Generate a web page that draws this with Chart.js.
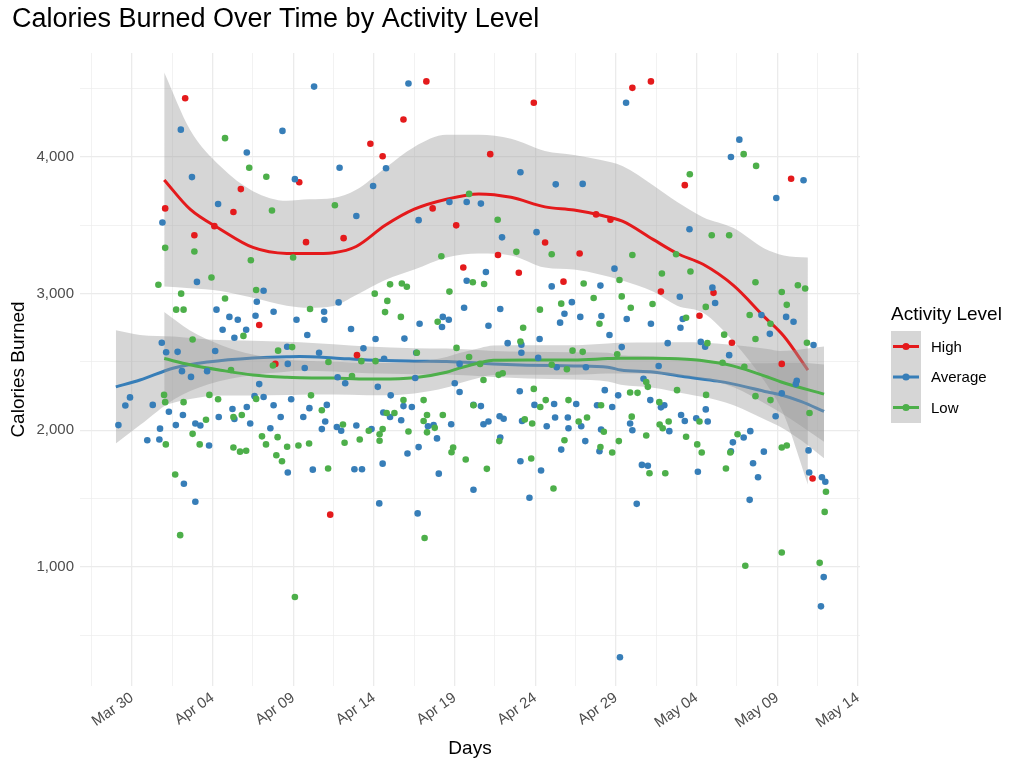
<!DOCTYPE html>
<html>
<head>
<meta charset="utf-8">
<script src="https://cdn.jsdelivr.net/npm/chart.js@4.4.0/dist/chart.umd.min.js"></script>
<style>html,body{margin:0;padding:0;background:#fff;}</style>
</head>
<body>
<canvas id="c" width="1024" height="768"></canvas>
<script>
const FONT = '"Liberation Sans", Arial, Helvetica, sans-serif';

// ---------- texts ----------
const chartTitle = 'Calories Burned Over Time by Activity Level';
const xTitle = 'Days';
const yTitle = 'Calories Burned';
const legendTitle = 'Activity Level';
const seriesNames = ['High', 'Average', 'Low'];
const seriesColors = ['#E41A1C', '#377EB8', '#4DAF4A'];

// ---------- ticks (x = days after Mar 30) ----------
const xTickDays = [0, 5, 10, 15, 20, 25, 30, 35, 40, 45];
const xTickLabels = ['Mar 30', 'Apr 04', 'Apr 09', 'Apr 14', 'Apr 19', 'Apr 24', 'Apr 29', 'May 04', 'May 09', 'May 14'];
const xGridDays = [-2.5, 0, 2.5, 5, 7.5, 10, 12.5, 15, 17.5, 20, 22.5, 25, 27.5, 30, 32.5, 35, 37.5, 40, 42.5, 45];
const yTickValues = [1000, 2000, 3000, 4000];
const yGridValues = [500, 1000, 1500, 2000, 2500, 3000, 3500, 4000, 4500];

// ---------- points: [day after Mar 30, calories] ----------
const highPoints = [
  [2.06,3624],[3.30,4430],[3.87,3427],[5.11,3494],[6.29,3597],[6.75,3765],[7.89,2771],[8.89,2486],[10.37,3815],
  [10.79,3377],[12.29,1383],[13.12,3406],[13.95,2550],[14.78,4097],[15.54,4006],[16.83,4274],[18.25,4553],[18.64,3624],
  [20.10,3500],[20.54,3191],[22.21,4021],[22.69,3283],[23.98,3153],[24.91,4397],[25.61,3374],[26.75,3088],[27.75,3294],
  [28.77,3580],[29.66,3541],[31.02,4506],[32.17,4553],[32.79,3015],[34.27,3794],[35.18,2838],[36.05,3006],[37.19,2641],
  [40.28,2486],[40.86,3841],[42.19,1647]
];
const averagePoints = [
  [-0.84,2038],[-0.41,2182],[-0.12,2241],
  [3.03,4200],[3.72,3853],[5.34,3656],[1.89,3521],[4.03,3086],[5.24,2883],[1.85,2641],[2.12,2571],[2.83,2574],[5.16,2580],
  [3.10,2433],[3.66,2391],[4.66,2433],[1.29,2186],[2.29,2136],[3.16,2112],[1.74,2012],[2.72,2038],[3.93,2050],[4.24,2035],
  [5.38,2097],[0.95,1927],[1.70,1933],[4.78,1889],[3.22,1609],[3.93,1477],
  [9.33,4191],[7.12,4033],[10.10,3838],[8.16,3021],[7.74,2941],[6.04,2830],[6.56,2809],[7.66,2838],[8.78,2868],[10.20,2809],
  [5.62,2736],[7.08,2736],[6.35,2677],[9.62,2612],[9.66,2486],[7.89,2338],[7.60,2250],[8.16,2244],[8.78,2183],[9.87,2227],
  [6.23,2156],[7.12,2171],[6.35,2083],[7.33,2050],[9.22,2097],[8.58,2015],[9.66,1691],
  [11.29,4515],[12.87,3921],[14.95,3788],[13.91,3568],[12.81,2936],[11.91,2868],[11.93,2809],[10.87,2697],[13.58,2741],
  [15.10,2668],[14.35,2600],[11.60,2568],[10.71,2456],[12.75,2388],[13.22,2344],[15.24,2318],[12.08,2186],[11.00,2162],
  [10.62,2097],[11.98,2065],[11.77,2009],[12.70,2024],[12.97,1997],[13.91,2035],[14.85,2009],[11.21,1712],[13.79,1715],
  [14.26,1715],[15.33,1465],
  [17.14,4538],[15.75,3918],[17.77,3538],[19.68,3671],[17.83,2780],[19.27,2830],[19.64,2809],[19.22,2756],[16.89,2671],
  [15.63,2524],[17.62,2568],[20.31,2486],[17.56,2383],[20.01,2344],[20.31,2280],[16.04,2256],[16.83,2177],[17.35,2171],
  [15.58,2130],[16.00,2097],[16.69,2074],[18.35,2030],[18.70,2038],[18.91,1941],[19.79,2044],[17.77,1877],[17.08,1830],
  [15.54,1756],[19.02,1683],[17.71,1392],
  [24.08,3888],[20.75,3671],[21.63,3659],[22.94,3412],[25.08,3450],[21.94,3159],[20.75,3094],[20.59,2897],[22.83,2888],
  [22.10,2765],[23.29,2638],[24.14,2627],[24.14,2568],[25.27,2668],[25.18,2530],[24.04,2286],[24.95,2186],[21.17,2186],
  [21.63,2177],[21.79,2044],[22.10,2065],[22.79,2103],[23.04,2085],[24.18,2068],[22.83,1947],[24.08,1774],[21.17,1565],
  [24.64,1506],
  [26.27,3800],[27.94,3803],[29.91,3183],[26.02,3053],[29.04,3059],[27.27,2938],[26.81,2853],[26.54,2788],[27.79,2830],
  [29.10,2836],[29.60,2697],[26.33,2462],[28.14,2462],[29.31,2294],[26.17,2192],[27.54,2192],[28.83,2183],[29.77,2171],
  [30.14,2256],[26.23,2094],[27.02,2094],[25.71,2030],[27.06,2015],[27.85,2030],[28.10,1921],[26.61,1859],[28.98,1847],
  [29.08,2006],[25.36,1706],[30.25,339],
  [30.63,4397],[34.56,3471],[33.96,2977],[30.67,2815],[32.17,2780],[34.14,2815],[34.00,2750],[33.21,2638],[30.36,2609],
  [32.65,2471],[31.71,2377],[32.13,2221],[32.79,2168],[33.00,2183],[34.04,2112],[34.27,2068],[34.98,2088],[30.88,2050],
  [31.02,2000],[33.31,1994],[31.61,1747],[31.98,1741],[35.08,1697],[31.29,1462],
  [37.65,4127],[37.13,4000],[39.94,3700],[35.98,3044],[36.15,2932],[39.02,2844],[39.54,2706],[35.26,2647],[35.53,2612],
  [37.02,2550],[35.57,2153],[35.69,2065],[39.90,2103],[38.33,1994],[37.92,1947],[37.25,1912],[37.13,1847],[39.17,1844],
  [38.50,1759],[38.81,1656],[38.29,1491],
  [41.63,3830],[40.55,2830],[41.01,2794],[42.25,2624],[41.21,2362],[41.15,2338],[40.28,2271],[41.94,1853],[41.98,1691],
  [42.77,1656],[42.98,1624],[42.88,926],[42.71,712]
];
const lowPoints = [
  [2.06,3335],[3.87,3309],[1.64,3065],[4.93,3118],[3.05,3000],[2.74,2883],[3.20,2883],[3.76,2665],[1.99,2259],[2.06,2206],
  [3.20,2206],[4.80,2259],[5.34,2227],[3.76,1974],[4.59,2077],[2.10,1897],[4.20,1897],[2.68,1677],[2.99,1233],
  [5.77,4138],[7.27,3921],[8.33,3856],[8.68,3609],[7.37,3244],[9.99,3265],[7.70,3027],[5.77,2965],[6.91,2691],[9.06,2583],
  [9.93,2609],[8.74,2474],[6.14,2441],[7.70,2230],[6.29,2097],[6.81,2112],[8.06,1956],[8.31,1897],[9.03,1950],[6.29,1874],
  [6.70,1844],[7.08,1850],[9.62,1880],[10.32,1889],[8.95,1818],[9.30,1774],[10.10,780],
  [12.58,3647],[15.05,3000],[11.04,2888],[12.18,2500],[13.64,2397],[14.22,2506],[15.10,2506],[11.10,2256],[11.77,2147],
  [13.08,2042],[10.98,1903],[13.18,1909],[14.12,1933],[14.68,1997],[15.35,1971],[15.35,1924],[12.16,1721],
  [19.18,3274],[16.00,3068],[16.73,3074],[17.04,3050],[19.68,3015],[15.83,2947],[15.69,2865],[16.67,2830],[18.95,2794],
  [17.66,2568],[20.12,2603],[18.08,2221],[16.83,2221],[15.79,2127],[16.27,2127],[18.29,2112],[19.27,2112],[18.08,2068],
  [17.14,1991],[18.29,1985],[18.77,2018],[15.54,2009],[19.91,1874],[19.81,1839],[18.14,1212],
  [20.90,3730],[22.67,3541],[23.83,3306],[21.13,3083],[21.83,3071],[25.29,2883],[24.25,2750],[24.08,2650],[20.90,2536],
  [21.58,2486],[22.73,2406],[22.98,2418],[21.79,2368],[24.91,2303],[21.17,2183],[24.35,2080],[24.81,2050],[22.77,1921],
  [20.69,1786],[22.00,1718],[24.75,1794],
  [26.02,3288],[28.00,3074],[30.22,3100],[28.62,2968],[26.61,2927],[28.98,2780],[27.31,2583],[27.94,2574],[30.08,2556],
  [26.02,2480],[26.96,2447],[25.65,2221],[25.31,2171],[27.06,2221],[28.21,2094],[27.69,2065],[29.08,2183],[29.25,1989],
  [29.04,1877],[30.18,1921],[29.77,1838],[26.81,1927],[26.13,1574],
  [34.58,3874],[31.02,3283],[33.73,3288],[32.85,3147],[34.62,3162],[30.36,2980],[32.27,2924],[30.92,2897],[34.35,2824],
  [31.88,2353],[31.98,2318],[30.88,2277],[31.34,2274],[33.79,2294],[32.69,2206],[30.98,2100],[32.71,2042],[32.90,2015],
  [33.27,2065],[35.18,2065],[34.35,1953],[31.88,1962],[35.04,1897],[32.08,1686],[33.06,1686],
  [37.92,4021],[38.69,3935],[35.94,3427],[37.02,3427],[38.65,3083],[35.57,2903],[38.29,2844],[39.58,2780],[36.71,2700],
  [38.65,2668],[35.67,2638],[36.61,2494],[37.96,2465],[35.59,2259],[38.65,2250],[39.58,2221],[37.54,1971],[37.09,1838],
  [35.32,1838],[36.82,1721],[38.02,1009],
  [41.28,3062],[40.28,3012],[41.73,3038],[40.59,2918],[41.84,2641],[42.00,2127],[40.28,1874],[40.59,1889],[43.02,1550],
  [42.94,1403],[42.63,1030],[40.28,1106]
];

// ---------- smooth fits with confidence bands ----------
const highSmoothDay = [2.0,3.6,5.5,7.5,9.6,11.0,12.5,13.9,15.7,17.5,19.5,21.5,23.5,25.6,27.4,29.0,30.4,32.3,33.8,35.4,37.3,39.2,40.4,41.9];
const highFit   = [3832,3618,3470,3338,3294,3293,3300,3345,3500,3618,3691,3730,3705,3635,3612,3575,3530,3397,3294,3215,3059,2830,2690,2441];
const highLower = [3053,3040,3020,2970,2912,2897,2910,2990,3100,3176,3265,3294,3280,3191,3176,3140,3096,3015,2912,2860,2647,2360,2118,1603];
const highUpper = [4618,4200,3930,3750,3680,3690,3700,3760,3920,4074,4162,4162,4133,4044,4015,3980,3935,3794,3670,3560,3480,3330,3280,3265];

const averageSmoothDay = [-1.0,0.5,2.6,4.7,7.5,9.6,10.4,12.5,14.6,17.5,19.5,22.4,24.5,27.4,29.5,30.3,32.3,34.4,36.3,37.3,39.4,40.2,41.5,42.9];
const averageFit   = [2318,2368,2456,2500,2530,2538,2540,2530,2515,2506,2503,2486,2477,2471,2462,2441,2427,2390,2360,2338,2280,2260,2210,2138];
const averageLower = [1903,2038,2226,2335,2405,2428,2435,2430,2417,2411,2408,2391,2380,2371,2357,2333,2312,2265,2220,2183,2070,2025,1925,1795];
const averageUpper = [2733,2698,2686,2665,2655,2648,2645,2630,2613,2601,2598,2581,2574,2571,2567,2549,2542,2515,2500,2493,2490,2495,2495,2481];

const lowSmoothDay = [2.0,3.6,5.5,7.5,9.6,10.4,12.5,14.6,15.4,17.5,19.5,20.3,21.6,22.4,24.5,25.3,27.4,29.5,30.3,32.3,34.4,35.2,37.3,39.4,40.2,42.9];
const lowFit   = [2525,2480,2440,2405,2388,2385,2382,2375,2375,2385,2425,2455,2495,2512,2515,2515,2515,2525,2528,2528,2520,2512,2470,2390,2355,2265];
const lowLower = [2185,2230,2255,2255,2258,2260,2262,2257,2257,2270,2313,2345,2387,2404,2407,2407,2407,2415,2416,2413,2395,2382,2315,2185,2130,1917];
const lowUpper = [2865,2730,2625,2555,2518,2510,2502,2493,2493,2500,2537,2565,2603,2620,2623,2623,2623,2635,2640,2643,2645,2642,2625,2595,2580,2613];

// ---------- helpers ----------
const BAND = 'rgba(153,153,153,0.4)';
const NONE = 'rgba(0,0,0,0)';
const toPts = arr => arr.map(p => ({x: p[0], y: p[1]}));
const toCurve = (days, vals) => days.map((d, i) => ({x: d, y: vals[i]}));
const near = (a, list) => list.some(v => Math.abs(v - a) < 1e-6);

function bandSets(days, lo, hi, order) {
  return [
    {type: 'line', data: toCurve(days, hi), fill: '+1', backgroundColor: BAND, borderColor: NONE, borderWidth: 0,
     pointRadius: 0, cubicInterpolationMode: 'monotone', order},
    {type: 'line', data: toCurve(days, lo), fill: false, borderColor: NONE, borderWidth: 0,
     pointRadius: 0, cubicInterpolationMode: 'monotone', order}
  ];
}
function lineSet(days, fit, color, order) {
  return {type: 'line', data: toCurve(days, fit), fill: false, borderColor: color, borderWidth: 3,
          pointRadius: 0, cubicInterpolationMode: 'monotone', order};
}
function pointSet(points, color, order) {
  return {type: 'scatter', data: toPts(points), backgroundColor: color, borderColor: color,
          pointRadius: 3.3, pointBorderWidth: 0, pointHoverRadius: 3.3, order};
}

const datasets = [
  ...bandSets(highSmoothDay, highLower, highUpper, 9),
  lineSet(highSmoothDay, highFit, seriesColors[0], 8),
  ...bandSets(averageSmoothDay, averageLower, averageUpper, 7),
  lineSet(averageSmoothDay, averageFit, seriesColors[1], 6),
  ...bandSets(lowSmoothDay, lowLower, lowUpper, 5),
  lineSet(lowSmoothDay, lowFit, seriesColors[2], 4),
  pointSet(highPoints, seriesColors[0], 3),
  pointSet(averagePoints, seriesColors[1], 2),
  pointSet(lowPoints, seriesColors[2], 1)
];

const ggDecor = {
  id: 'ggDecor',
  afterDraw(chart) {
    const ctx = chart.ctx;
    ctx.save();
    // title
    ctx.fillStyle = '#000';
    ctx.font = `27px ${FONT}`;
    ctx.textAlign = 'left';
    ctx.textBaseline = 'alphabetic';
    ctx.fillText(chartTitle, 12, 27);
    // legend
    ctx.font = `19px ${FONT}`;
    ctx.fillText(legendTitle, 891, 320);
    ctx.fillStyle = BAND;
    ctx.fillRect(891, 331, 30, 92);
    seriesNames.forEach((name, i) => {
      const y = 346.5 + i * 30.5;
      ctx.strokeStyle = seriesColors[i];
      ctx.lineWidth = 3;
      ctx.beginPath(); ctx.moveTo(893, y); ctx.lineTo(919, y); ctx.stroke();
      ctx.fillStyle = seriesColors[i];
      ctx.beginPath(); ctx.arc(906, y, 3.6, 0, Math.PI * 2); ctx.fill();
      ctx.fillStyle = '#000';
      ctx.font = `15px ${FONT}`;
      ctx.textBaseline = 'middle';
      ctx.fillText(name, 931, y + 1);
    });
    ctx.restore();
  }
};

const gridColor = '#EBEBEB';

new Chart(document.getElementById('c'), {
  type: 'scatter',
  data: {datasets},
  plugins: [ggDecor],
  options: {
    responsive: false,
    animation: false,
    events: [],
    layout: {padding: {top: 53, right: 164, bottom: 0, left: 0}, autoPadding: false},
    plugins: {legend: {display: false}, title: {display: false}, tooltip: {enabled: false}},
    scales: {
      x: {
        type: 'linear', min: -3.22, max: 45.13,
        afterBuildTicks(s) { s.ticks = xGridDays.map(v => ({value: v})); },
        afterFit(s) { s.height = 82; s.paddingLeft = 0; s.paddingRight = 0; },
        ticks: {
          autoSkip: false, minRotation: 35, maxRotation: 35, padding: 3,
          color: '#4D4D4D', font: {family: FONT, size: 15},
          callback(v) { const i = xTickDays.findIndex(d => Math.abs(d - v) < 1e-6); return i >= 0 ? xTickLabels[i] : ''; }
        },
        grid: {
          drawTicks: false, color: gridColor,
          lineWidth: c => near(c.tick.value, xTickDays) ? 1.3 : 0.65
        },
        border: {display: false},
        title: {display: true, text: xTitle, color: '#000', font: {family: FONT, size: 19}, padding: {top: 0, bottom: 8}}
      },
      y: {
        type: 'linear', min: 129, max: 4761,
        afterBuildTicks(s) { s.ticks = yGridValues.map(v => ({value: v})); },
        afterFit(s) { s.width = 80; s.paddingTop = 0; s.paddingBottom = 0; },
        ticks: {
          padding: 6, color: '#4D4D4D', font: {family: FONT, size: 15},
          callback(v) { return near(v, yTickValues) ? v.toLocaleString('en-US') : ''; }
        },
        grid: {
          drawTicks: false, color: gridColor,
          lineWidth: c => near(c.tick.value, yTickValues) ? 1.3 : 0.65
        },
        border: {display: false},
        title: {display: true, text: yTitle, color: '#000', font: {family: FONT, size: 19}, padding: {top: 7, bottom: 0}}
      }
    }
  }
});
</script>
</body>
</html>
